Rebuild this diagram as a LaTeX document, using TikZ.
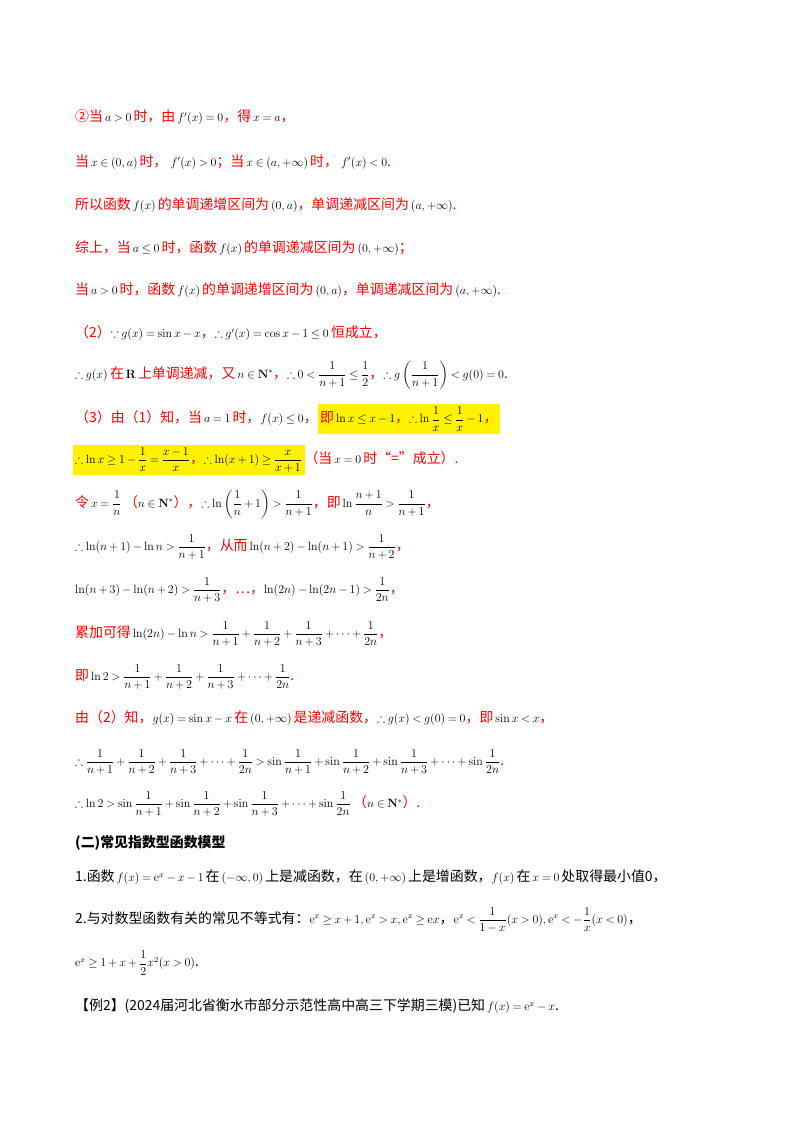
\documentclass[tikz,border=0pt]{standalone}
\usepackage{amsmath,amssymb}
\usepackage[no-math]{fontspec}
\setmainfont[Scale=1.16]{Noto Sans CJK SC}
\newcommand{\rd}[1]{{\color{red}#1}}
\newcommand{\hl}[1]{{\setlength\fboxsep{2.5pt}\colorbox{yellow}{#1}}}
\medmuskip=3mu plus 1mu minus 2mu
\thickmuskip=4mu plus 2mu
\begin{document}
\begin{tikzpicture}[x=1pt,y=1pt,
  line/.style={anchor=west,inner sep=0pt,font=\fontsize{12}{15}\selectfont}]
\useasboundingbox (0,0) rectangle (800,-1132);
\def\X{75}
\node[line] (r1) at (\X,-117) {\rd{②当}$\,a>0\,$\rd{时，由}$\,f'(x)=0$\rd{，得}$\,x=a$\rd{，}};
\node[line] (r2) at (\X,-162) {\rd{当}$\,x\in(0,a)\,$\rd{时，\ }$f'(x)>0$\rd{；当}$\,x\in(a,+\infty)\,$\rd{时，\ }$f'(x)<0$\rd{.}};
\node[line] (r3) at (\X,-205) {\rd{所以函数}$\,f(x)\,$\rd{的单调递增区间为}$\,(0,a)$\rd{，单调递减区间为}$\,(a,+\infty)$\rd{.}};
\node[line] (r4) at (\X,-248) {\rd{综上，当}$\,a\le0\,$\rd{时，函数}$\,f(x)\,$\rd{的单调递减区间为}$\,(0,+\infty)$\rd{；}};
\node[line] (r5) at (\X,-290) {\rd{当}$\,a>0\,$\rd{时，函数}$\,f(x)\,$\rd{的单调递增区间为}$\,(0,a)$\rd{，单调递减区间为}$\,(a,+\infty)$\rd{.}};
\node[line] (r6) at (\X,-333) {\rd{（2）}$\because g(x)=\sin x-x$\rd{，}$\therefore g'(x)=\cos x-1\le0$\,\rd{恒成立，}};
\node[line] (r7) at (\X,-375) {$\therefore g(x)$\,\rd{在}$\,\mathbf R\,$\rd{上单调递减，又}$\,n\in\mathbf N^*$\rd{，}$\therefore 0<\dfrac1{n+1}\le\dfrac12$\rd{，}$\therefore g\left(\dfrac1{n+1}\right)<g(0)=0$\rd{.}};
\node[line] (r8) at (\X,-419) {\rd{（3）由（1）知，当}$\,a=1\,$\rd{时，}$f(x)\le0$\rd{，}\hl{\rd{即}$\,\ln x\le x-1$\rd{，}$\therefore\ln\dfrac1x\le\dfrac1x-1$\rd{，}}};
\node[line] (r9) at (\X-2.5,-460) {\hl{$\therefore\ln x\ge1-\dfrac1x=\dfrac{x-1}x$\rd{，}$\therefore\ln(x+1)\ge\dfrac x{x+1}$}\rd{（当}$\,x=0\,$\rd{时“=”成立）.}};
\node[line] (r10) at (\X,-504) {\rd{令}$\,x=\dfrac1n$\,\rd{（}$n\in\mathbf N^*$\rd{），}$\therefore\ln\left(\dfrac1n+1\right)>\dfrac1{n+1}$\rd{，即}$\,\ln\dfrac{n+1}n>\dfrac1{n+1}$\rd{，}};
\node[line] (r11) at (\X,-547) {$\therefore\ln(n+1)-\ln n>\dfrac1{n+1}$\rd{，从而}$\,\ln(n+2)-\ln(n+1)>\dfrac1{n+2}$\rd{，}};
\node[line] (r12) at (\X,-590) {$\ln(n+3)-\ln(n+2)>\dfrac1{n+3}$\rd{，…，}$\ln(2n)-\ln(2n-1)>\dfrac1{2n}$\rd{，}};
\node[line] (r13) at (\X,-634) {\rd{累加可得}$\,\ln(2n)-\ln n>\dfrac1{n+1}+\dfrac1{n+2}+\dfrac1{n+3}+\cdots+\dfrac1{2n}$\rd{，}};
\node[line] (r14) at (\X,-677) {\rd{即}$\,\ln2>\dfrac1{n+1}+\dfrac1{n+2}+\dfrac1{n+3}+\cdots+\dfrac1{2n}$\rd{.}};
\node[line] (r15) at (\X,-718) {\rd{由（2）知，}$g(x)=\sin x-x$\,\rd{在}$\,(0,+\infty)\,$\rd{是递减函数，}$\therefore g(x)<g(0)=0$\rd{，即}$\,\sin x<x$\rd{，}};
\node[line] (r16) at (\X,-762) {$\therefore\dfrac1{n+1}+\dfrac1{n+2}+\dfrac1{n+3}+\cdots+\dfrac1{2n}>\sin\dfrac1{n+1}+\sin\dfrac1{n+2}+\sin\dfrac1{n+3}+\cdots+\sin\dfrac1{2n}$\rd{.}};
\node[line] (r17) at (\X,-804) {$\therefore\ln2>\sin\dfrac1{n+1}+\sin\dfrac1{n+2}+\sin\dfrac1{n+3}+\cdots+\sin\dfrac1{2n}$\,\rd{（}$n\in\mathbf N^*$\rd{）.}};
\node[line,font=\fontsize{12}{15}\selectfont\bfseries] (r18) at (\X,-843) {(二)常见指数型函数模型};
\node[line] (r19) at (\X,-877) {1.函数$\,f(x)=\mathrm e^x-x-1\,$在$\,(-\infty,0)\,$上是减函数，在$\,(0,+\infty)\,$上是增函数，$f(x)\,$在$\,x=0\,$处取得最小值0，};
\node[line] (r20) at (\X,-920) {2.与对数型函数有关的常见不等式有：$\mathrm e^x\ge x+1,\mathrm e^x>x,\mathrm e^x\ge\mathrm ex$，$\mathrm e^x<\dfrac1{1-x}(x>0),\mathrm e^x<-\dfrac1x(x<0)$，};
\node[line] (r21) at (\X,-963) {$\mathrm e^x\ge1+x+\dfrac12x^2(x>0)$.};
\node[line] (r22) at (\X,-1006) {【例2】(2024届河北省衡水市部分示范性高中高三下学期三模)已知$\,f(x)=\mathrm e^x-x$.};
\end{tikzpicture}
\end{document}
